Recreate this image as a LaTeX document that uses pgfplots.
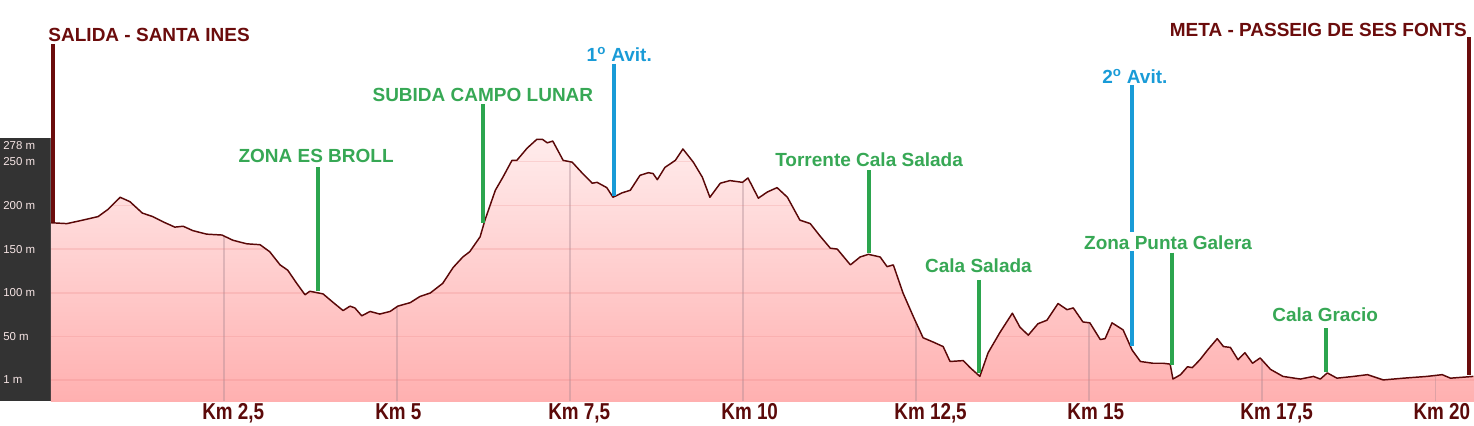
\documentclass[border=0pt]{standalone}
\usepackage{pgfplots}
\usepackage{pgfplotstable}
\pgfplotsset{compat=1.18}
\usepackage{fontspec}
\setmainfont{Liberation Sans}
\newfontfamily\kmfont{Liberation Sans}[FakeStretch=0.82]
\definecolor{dred}{RGB}{107,12,12}
\definecolor{prof}{RGB}{90,8,8}
\definecolor{lgreen}{RGB}{55,168,85}
\definecolor{mgreen}{RGB}{44,165,78}
\definecolor{lblue}{RGB}{25,155,215}
\definecolor{panel}{RGB}{51,51,51}
\definecolor{fillTop}{RGB}{255,236,236}
\definecolor{fillBot}{RGB}{255,176,176}
\definecolor{kmred}{RGB}{92,10,10}
\definecolor{ylab}{RGB}{245,228,228}
\definecolor{gridv}{RGB}{170,135,145}
\definecolor{gridh}{RGB}{230,120,120}

\pgfplotstableread{
km m
0.00 180
0.23 179
0.46 183
0.68 187
0.82 195
1.00 209
1.14 204
1.32 191
1.47 187
1.62 181
1.79 175
1.91 176
2.05 171
2.25 167
2.47 166
2.63 160
2.83 156
3.02 155
3.16 147
3.31 132
3.42 126
3.55 111
3.67 98
3.74 102
3.93 99
4.08 89
4.22 80
4.32 85
4.39 83
4.49 74
4.61 79
4.75 76
4.90 79
5.01 85
5.19 89
5.33 96
5.48 100
5.66 111
5.81 129
5.95 141
6.05 147
6.20 164
6.27 183
6.42 217
6.53 232
6.66 251
6.73 251
6.88 265
7.02 275
7.10 275
7.17 271
7.25 273
7.40 251
7.53 249
7.67 237
7.82 225
7.89 226
8.03 220
8.12 209
8.25 214
8.37 217
8.51 234
8.63 237
8.70 236
8.76 229
8.87 243
9.02 251
9.13 264
9.28 249
9.41 232
9.52 209
9.67 225
9.81 228
9.99 226
10.07 231
10.22 208
10.35 215
10.49 220
10.64 209
10.82 183
10.97 179
11.11 165
11.26 151
11.36 150
11.55 132
11.69 141
11.81 144
11.98 141
12.08 130
12.17 132
12.31 100
12.46 73
12.60 49
12.75 44
12.89 39
12.99 22
13.18 23
13.28 15
13.42 5
13.54 32
13.71 55
13.89 77
14.00 61
14.12 52
14.26 65
14.39 69
14.55 88
14.68 81
14.77 83
14.91 67
15.01 66
15.16 47
15.23 48
15.33 66
15.49 58
15.62 35
15.74 22
15.92 20
16.07 20
16.17 19
16.21 2
16.32 7
16.42 16
16.49 15
16.60 24
16.71 35
16.85 48
16.94 39
17.04 38
17.15 24
17.25 32
17.36 20
17.47 26
17.62 13
17.80 5
18.05 2
18.24 5
18.34 2
18.44 9
18.58 3
18.82 5
19.02 7
19.25 1
19.54 3
19.88 5
20.10 7
20.22 3
20.55 5
}\profile

\begin{document}
\begin{tikzpicture}
\path[use as bounding box] (0,0) rectangle (1105.5pt,318.75pt);
\fill[panel] (0,18pt) rectangle (38.25pt,215.25pt);
\begin{axis}[
  at={(38.25pt,18pt)}, anchor=south west,
  width=1067.25pt, height=197.25pt, scale only axis,
  xmin=0, xmax=20.56, ymin=-23, ymax=276.5,
  clip=false,
  axis line style={draw=none},
  major tick length=0pt,
  xtick={2.5,5,7.5,10,12.5,15,17.5,20},
  xticklabels={{Km 2,5},{Km 5},{Km 7,5},{Km 10},{Km 12,5},{Km 15},{Km 17,5},{Km 20}},
  xticklabel style={anchor=north west, inner sep=0pt, xshift=-16.5pt, yshift=-1.5pt,
    font=\kmfont\bfseries\fontsize{17.25}{18}\selectfont, text=kmred},
  ytick={1,50,100,150,200,250},
  yticklabels={1 m,50 m,100 m,150 m,200 m,250 m},
  extra y ticks={268},
  extra y tick labels={278 m},
  extra y tick style={grid=none},
  yticklabel style={anchor=west, inner sep=0pt, xshift=-36pt,
    font=\fontsize{8.6}{9}\selectfont, text=ylab},
  grid=major,
  x grid style={draw=gridv, line width=1.1pt, opacity=0.38},
  y grid style={draw=gridh, line width=0.9pt, opacity=0.2},
  axis background/.style={top color=fillTop, bottom color=fillBot},
]
\addplot[draw=none, fill=white] table[x=km,y=m] {\profile}
  -- (axis cs:20.56,5) -- (axis cs:20.56,290) -- (axis cs:0,290) -- (axis cs:0,180) -- cycle;
\addplot[prof, line width=1.1pt, line join=round] table[x=km,y=m] {\profile};

% markers
\draw[dred, line width=3.2pt] (axis cs:0.03,383) -- (axis cs:0.03,181);
\draw[dred, line width=3.2pt] (axis cs:20.49,391) -- (axis cs:20.49,7);
\draw[mgreen, line width=2.7pt] (axis cs:3.86,243) -- (axis cs:3.86,102);
\draw[mgreen, line width=2.7pt] (axis cs:6.24,315) -- (axis cs:6.24,180);
\draw[lblue, line width=3pt] (axis cs:8.14,361) -- (axis cs:8.14,210);
\draw[mgreen, line width=2.7pt] (axis cs:11.82,240) -- (axis cs:11.82,146);
\draw[mgreen, line width=2.7pt] (axis cs:13.41,115) -- (axis cs:13.41,9);
\draw[lblue, line width=3pt] (axis cs:15.62,337) -- (axis cs:15.62,170);
\draw[lblue, line width=3pt] (axis cs:15.62,148) -- (axis cs:15.62,40);
\draw[mgreen, line width=2.7pt] (axis cs:16.20,146) -- (axis cs:16.20,18);
\draw[mgreen, line width=2.7pt] (axis cs:18.42,60) -- (axis cs:18.42,10);

\tikzset{lab/.style={inner sep=0pt, font=\bfseries\fontsize{14.25}{16}\selectfont}}
\node[lab, anchor=base west, text=dred] at (axis cs:-0.04,386) {SALIDA - SANTA INES};
\node[lab, anchor=base east, text=dred] at (axis cs:20.46,392.5) {META - PASSEIG DE SES FONTS};
\node[lab, anchor=base, text=lgreen] at (axis cs:3.83,249) {ZONA ES BROLL};
\node[lab, anchor=base, text=lgreen] at (axis cs:6.24,318.5) {SUBIDA CAMPO LUNAR};
\node[lab, anchor=base, text=lblue] at (axis cs:8.21,364) {1\textsuperscript{o} Avit.};
\node[lab, anchor=base, text=lgreen] at (axis cs:11.82,243.5) {Torrente Cala Salada};
\node[lab, anchor=base, text=lgreen] at (axis cs:13.40,123) {Cala Salada};
\node[lab, anchor=base, text=lblue] at (axis cs:15.66,339) {2\textsuperscript{o} Avit.};
\node[lab, anchor=base, text=lgreen] at (axis cs:16.14,150) {Zona Punta Galera};
\node[lab, anchor=base, text=lgreen] at (axis cs:18.41,67) {Cala Gracio};
\end{axis}
\end{tikzpicture}
\end{document}
